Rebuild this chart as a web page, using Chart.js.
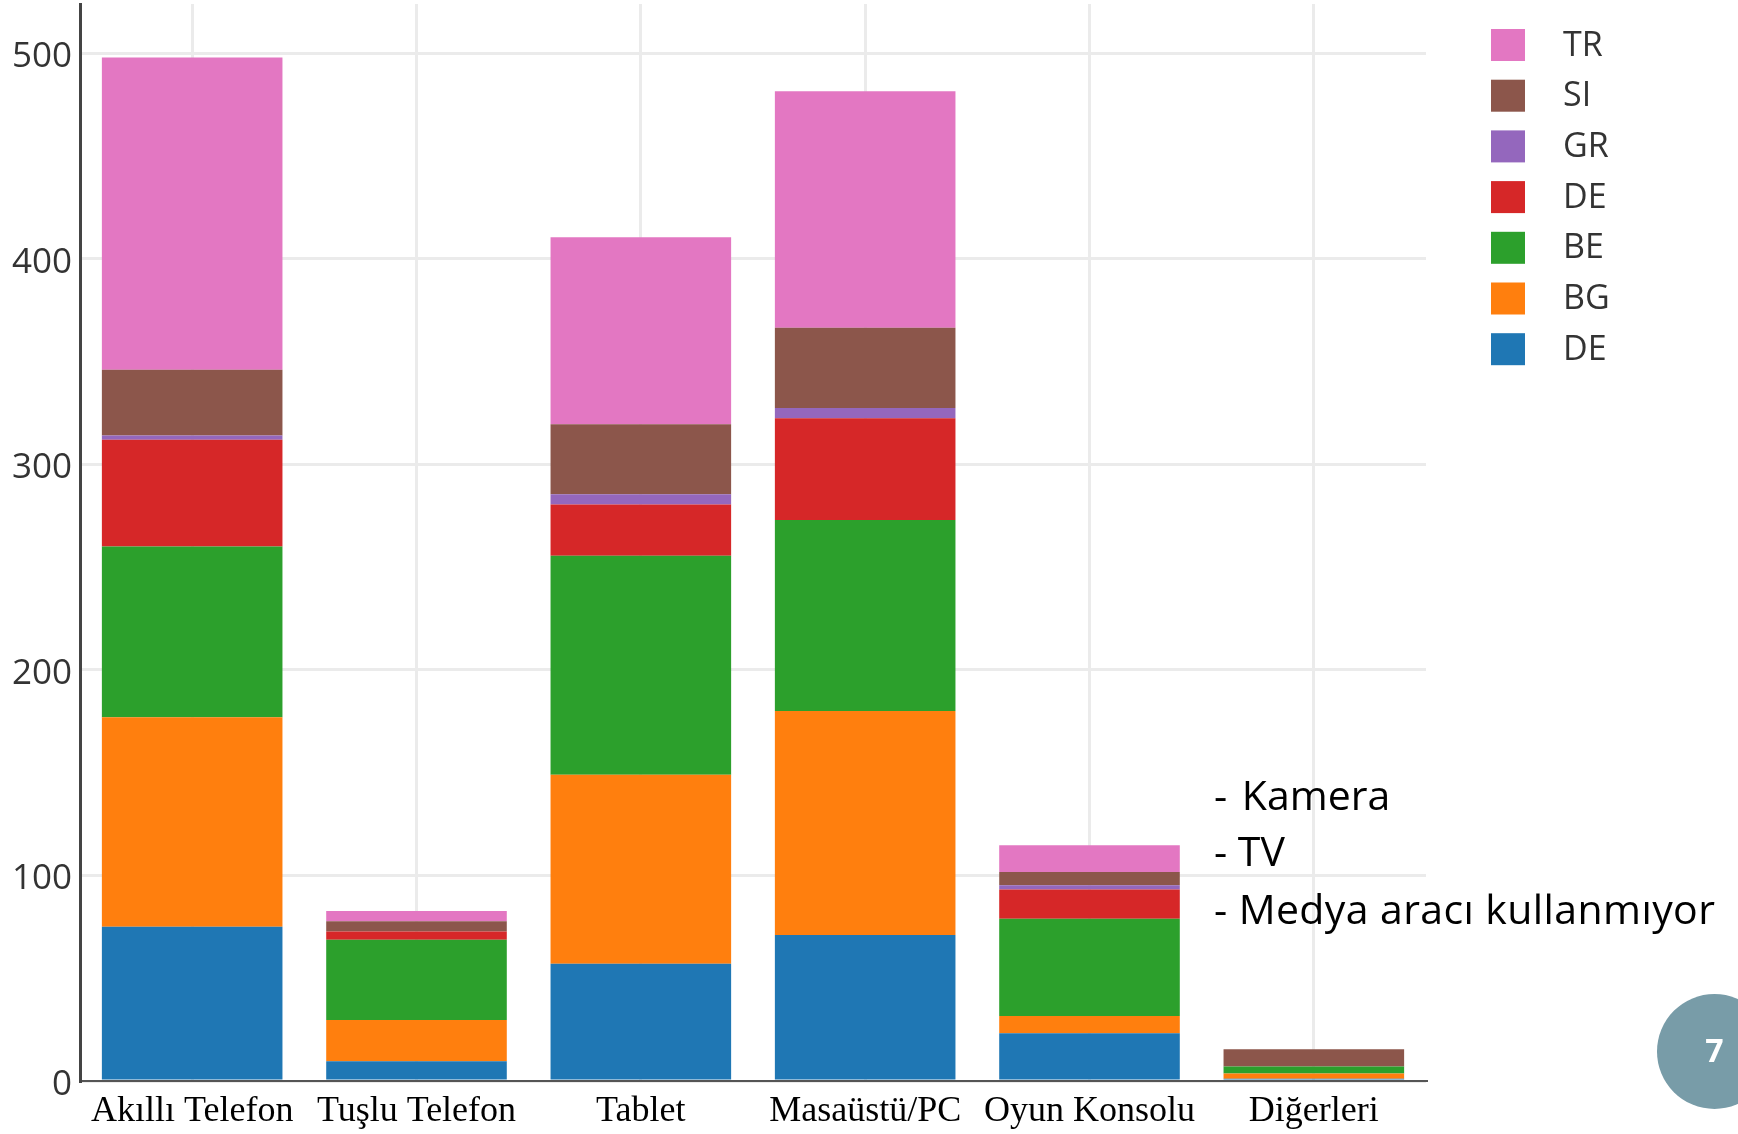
<!DOCTYPE html>
<html>
<head>
<meta charset="utf-8">
<script src="https://cdn.jsdelivr.net/npm/chart.js@4.4.1/dist/chart.umd.min.js"></script>
<style>
  html, body { margin: 0; padding: 0; background: #fff; overflow: hidden; }
  #wrap { position: relative; width: 1738px; height: 1134px; }
  .note {
    position: absolute;
    left: 1214px;
    font-family: "Open Sans", sans-serif;
    font-size: 41px;
    line-height: 41px;
    color: #000;
    white-space: pre;
  }
  #page {
    position: absolute;
    left: 1657px;
    top: 994px;
    width: 115px;
    height: 115px;
    border-radius: 50%;
    background: #789ca8;
  }
  #page span {
    position: absolute;
    left: 0;
    width: 115px;
    top: 40px;
    font-family: "Open Sans", sans-serif;
    font-weight: bold;
    font-size: 32px;
    line-height: 32px;
    color: #fff;
    text-align: center;
  }
</style>
</head>
<body>
<div id="wrap">
  <canvas id="chart" width="1738" height="1134"></canvas>
  <div class="note" style="top:774px">- <span style="margin-left:4px">Kamera</span></div>
  <div class="note" style="top:830px">- TV</div>
  <div class="note" style="top:888px;letter-spacing:0.4px">- Medya aracı kullanmıyor</div>
  <div id="page"><span>7</span></div>
</div>
<script>
// categories on the x axis
const categories = ["Akıllı Telefon", "Tuşlu Telefon", "Tablet", "Masaüstü/PC", "Oyun Konsolu", "Diğerleri"];

// stacked series, bottom to top
const seriesLabels = ["DE", "BG", "BE", "DE", "GR", "SI", "TR"];
const deBlue = [75, 9.6, 57, 71, 23.2, 1.1];
const bg = [102, 20.1, 92, 109, 8.4, 2.6];
const be = [83, 39, 106.5, 93, 47.3, 3.3];
const deRed = [52, 4, 25, 49.5, 14.3, 0];
const gr = [2, 0, 5, 5, 2, 0];
const si = [32, 5, 34, 39, 6.5, 8.4];
const tr = [152, 5, 91, 115, 13, 0];

const yTicks = [0, 100, 200, 300, 400, 500];
const yMax = 524;

const colors = ["#1f77b4", "#ff7f0e", "#2ca02c", "#d62728", "#9467bd", "#8c564b", "#e377c2"];
const seriesValues = [deBlue, bg, be, deRed, gr, si, tr];

// legend on the right, drawn top (TR) to bottom (DE)
const sideLegend = {
  id: "sideLegend",
  afterDraw(chart) {
    const ctx = chart.ctx;
    const x0 = chart.chartArea.right + 65;
    const items = chart.data.datasets.slice().reverse();
    ctx.save();
    ctx.font = '34px "Open Sans"';
    ctx.textBaseline = "middle";
    ctx.textAlign = "left";
    items.forEach((ds, i) => {
      const top = 29 + i * 50.7;
      ctx.fillStyle = ds.backgroundColor;
      ctx.fillRect(x0, top, 34, 32);
      ctx.fillStyle = "#333";
      ctx.fillText(ds.label, x0 + 72, top + 17);
    });
    ctx.restore();
  }
};

const ctx = document.getElementById("chart").getContext("2d");

new Chart(ctx, {
  type: "bar",
  data: {
    labels: categories,
    datasets: seriesValues.map((vals, i) => ({
      label: seriesLabels[i],
      data: vals,
      backgroundColor: colors[i],
      borderWidth: 0,
      barPercentage: 0.805,
      categoryPercentage: 1
    }))
  },
  options: {
    responsive: false,
    animation: false,
    layout: { padding: { top: 4, right: 312, left: 0, bottom: 0 } },
    plugins: {
      legend: { display: false },
      tooltip: { enabled: false }
    },
    scales: {
      x: {
        stacked: true,
        afterFit: (axis) => {
          axis.height = 53;
          axis.paddingLeft = 0;
          axis.paddingRight = 0;
        },
        grid: { color: "#ebebeb", lineWidth: 3, offset: false, drawTicks: false },
        border: { display: true, color: "#555", width: 2 },
        ticks: {
          font: { family: "Liberation Serif", size: 36 },
          color: "#000",
          padding: 9,
          maxRotation: 0,
          autoSkip: false
        }
      },
      y: {
        stacked: true,
        min: 0,
        max: yMax,
        afterFit: (axis) => {
          axis.width = 80;
          axis.paddingTop = 0;
          axis.paddingBottom = 0;
        },
        afterBuildTicks: (axis) => { axis.ticks = yTicks.map(v => ({ value: v })); },
        grid: { color: "#ebebeb", lineWidth: 3, drawTicks: false },
        border: { display: true, color: "#444", width: 3 },
        ticks: {
          font: { family: "Open Sans", size: 35 },
          color: "#333",
          padding: 8,
          labelOffset: 4
        }
      }
    }
  },
  plugins: [sideLegend]
});
</script>
</body>
</html>
